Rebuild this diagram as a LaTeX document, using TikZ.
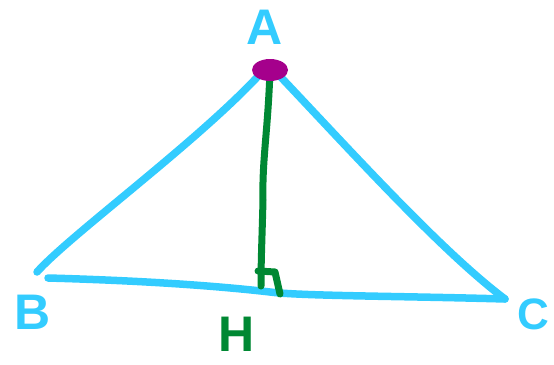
\documentclass[tikz,border=0pt]{standalone}
\usepackage{fontspec}
\setmainfont{Liberation Sans}
\definecolor{sky}{RGB}{51,204,255}
\definecolor{grn}{RGB}{0,136,51}
\definecolor{plum}{RGB}{165,0,140}
\begin{document}
\begin{tikzpicture}[x=1pt,y=-1pt,
  side/.style={draw=sky,line width=7.5pt,line cap=round,line join=round},
  alt/.style={draw=grn,line width=7pt,line cap=round,line join=round},
  lbl/.style={font=\bfseries\fontsize{50}{50}\selectfont,inner sep=0pt}]
\useasboundingbox (0,0) rectangle (554,364);
\coordinate (A) at (270,70);
\coordinate (Bs) at (37,272);
\coordinate (Bb) at (48,278);
\coordinate (C) at (505,299);
\coordinate (H) at (261,286);
% left side
\draw[side] (Bs) .. controls (70,235) and (200,140) .. (262,72);
% right side
\draw[side] (276,72) .. controls (350,150) and (440,250) .. (C);
% base
\draw[side] (C) .. controls (400,296) and (300,296) .. (270,292)
  .. controls (200,284) and (120,280) .. (Bb);
% altitude
\draw[alt] (A) .. controls (268,130) and (262,160) .. (263,200)
  .. controls (262,240) and (261,260) .. (H);
% right angle mark
\draw[alt] (258,271) -- (275,272) -- (280,294);
% vertex dot
\fill[plum] (A) ellipse[x radius=18pt,y radius=11pt];
% labels
\node[lbl,text=sky] (la) at (265,27) {A};
\node[lbl,text=sky] (lb) at (33,312) {B};
\node[lbl,text=sky,font=\bfseries\fontsize{44}{44}\selectfont] (lc) at (533,314) {C};
\node[lbl,text=grn] (lh) at (237,334) {H};
\end{tikzpicture}
\end{document}
